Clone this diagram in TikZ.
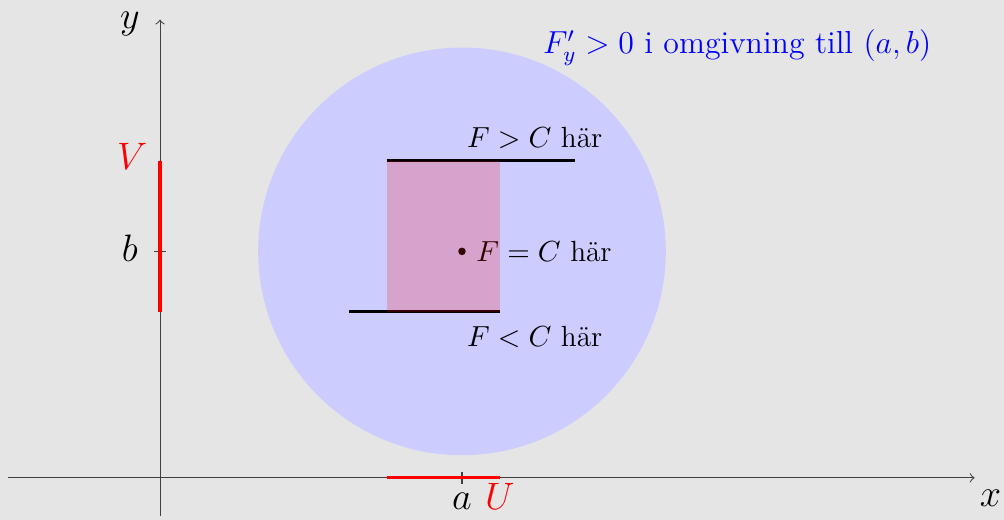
\documentclass[tikz,border=0pt]{standalone}
\usepackage{amsmath}
\usetikzlibrary{positioning}

\begin{document}
\begin{tikzpicture}[
  axis/.style={->, black!75},
  tick/.style={black!75},
  interval/.style={red, very thick},
  level/.style={black, very thick},
  lbl/.style={inner sep=1pt, font=\fontsize{11}{13}\selectfont},
  axlbl/.style={inner sep=0pt, anchor=base, font=\Large}
]
% background and bounding box
\fill[gray!20] (-2.12,-0.556) rectangle (11.18,6.33);
\useasboundingbox (-2.12,-0.556) rectangle (11.18,6.33);

% neighbourhood of (a,b)
\fill[blue!20] (4,3) circle (2.7);

% axes
\coordinate (xs) at (-2.01,0);
\coordinate (xe) at (10.79,0);
\coordinate (ys) at (0,-0.5);
\coordinate (ye) at (0,6.07);
\draw[axis] (xs) -- (xe);
\draw[axis] (ys) -- (ye);
\node[axlbl] (xl) at (11.0,-0.38) {$x$};
\node[axlbl] (yl) at (-0.4,5.95) {$y$};

% ticks at a and b
\draw[tick] (4,-0.08) -- (4,0.08);
\draw[tick] (-0.08,3) -- (0.08,3);
\node[axlbl] (al) at (4,-0.42) {$a$};
\node[axlbl] (bl) at (-0.4,2.87) {$b$};

% intervals U and V
\coordinate (u1) at (3,0); \coordinate (u2) at (4.5,0);
\coordinate (v1) at (0,2.2); \coordinate (v2) at (0,4.2);
\draw[interval] (u1) -- (u2);
\draw[interval] (v1) -- (v2);
\node[axlbl, red] (ul) at (4.5,-0.42) {$U$};
\node[axlbl, red] (vl) at (-0.37,4.08) {$V$};

% level lines
\coordinate (t1) at (3,4.2); \coordinate (t2) at (5.5,4.2);
\coordinate (s1) at (2.5,2.2); \coordinate (s2) at (4.5,2.2);
\draw[level] (t1) -- (t2);
\draw[level] (s1) -- (s2);

% point and labels
\fill (4,3) circle (0.05);
\node[lbl, anchor=base east] (gt) at (5.9,4.38) {$F>C$ här};
\node[lbl, anchor=base west] (eq) at (4.15,2.87) {$F=C$ här};
\node[lbl, anchor=base east] (lt) at (5.9,1.74) {$F<C$ här};

% rectangle U x V
\fill[red, opacity=0.2] (3,2.2) rectangle (4.5,4.2);

\node[blue, lbl, anchor=base east, font=\large] (title) at (10.26,5.62)
  {$F'_y>0$ i omgivning till $(a,b)$};
\end{tikzpicture}
\end{document}
